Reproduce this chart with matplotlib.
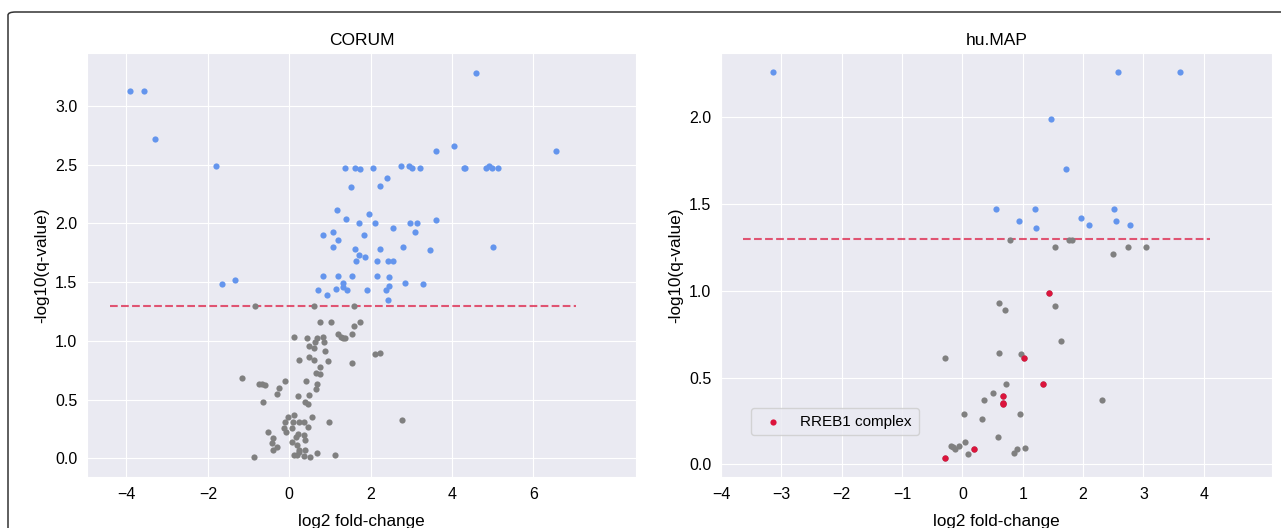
import matplotlib
matplotlib.use("Agg")
import matplotlib.pyplot as plt
import seaborn as sns
from matplotlib.patches import FancyBboxPatch

# CORUM: significant (blue) and not significant (gray) complexes
corum_sig_x = [-3.91, -3.57, -3.29, -1.79, 4.59, 3.61, 4.04, 6.55, 1.38, 1.61,
               1.73, 2.06, 2.75, 2.95, 3.01, 3.21, 4.30, 4.33, 4.84, 4.91,
               4.99, 5.12, 2.41, 2.23, 1.52, 1.18, 1.39, 1.97, 1.72, 2.12,
               2.96, 3.13, 3.60, 2.56, 3.10, 1.07, 0.84, 1.84, 1.19, 1.07,
               2.80, 5.02, 1.61, 2.23, 3.47, 1.72, 1.87, 1.65, 2.16, 2.43,
               2.56, 0.84, 1.19, 1.55, 2.15, 2.45, 2.84, 3.29, -1.65, -1.33,
               1.31, 1.31, 1.16, 1.41, 0.72, 0.93, 1.91, 2.38, 2.45, 2.43]
corum_sig_y = [3.13, 3.13, 2.72, 2.49, 3.28, 2.62, 2.66, 2.62, 2.47, 2.47,
               2.46, 2.47, 2.49, 2.49, 2.47, 2.47, 2.47, 2.47, 2.47, 2.49,
               2.47, 2.47, 2.39, 2.32, 2.31, 2.11, 2.04, 2.08, 2.00, 2.00,
               2.00, 2.00, 2.03, 1.96, 1.93, 1.93, 1.90, 1.90, 1.86, 1.80,
               1.80, 1.80, 1.78, 1.78, 1.77, 1.73, 1.71, 1.68, 1.68, 1.68,
               1.68, 1.55, 1.55, 1.55, 1.55, 1.54, 1.49, 1.48, 1.48, 1.52,
               1.49, 1.46, 1.44, 1.43, 1.43, 1.39, 1.43, 1.43, 1.47, 1.35]
corum_ns_x = [-0.83, 0.61, 1.60, 0.75, 1.03, 1.59, 1.74, 1.20, 1.27, 1.31,
              1.38, 1.54, 0.13, 0.43, 0.69, 0.64, 0.84, 0.85, 0.48, 0.61,
              0.89, 2.11, 2.22, 0.25, 0.48, 0.62, 0.95, 1.54, 0.76, 0.65,
              0.75, -1.17, -0.10, 0.42, -0.75, -0.68, -0.60, 0.69, -0.25, 0.66,
              -0.31, 0.21, 0.49, -0.65, 0.39, 0.47, -0.03, 0.13, 0.57, 2.76,
              0.98, -0.11, 0.10, 0.25, 0.36, -0.13, 0.06, 0.47, -0.52, -0.08,
              0.21, 0.36, 0.16, -0.39, 0.39, -0.42, -0.29, 0.07, 0.19, -0.39,
              0.25, 0.39, 0.68, 1.12, 0.12, 0.20, 0.36, 0.50, -0.87, 0.23]
corum_ns_y = [1.295, 1.295, 1.295, 1.16, 1.16, 1.13, 1.16, 1.06, 1.03, 1.02,
              1.02, 1.06, 1.03, 1.02, 1.02, 0.99, 1.03, 0.99, 0.96, 0.94,
              0.91, 0.89, 0.90, 0.84, 0.86, 0.84, 0.83, 0.81, 0.78, 0.73,
              0.72, 0.68, 0.66, 0.66, 0.63, 0.63, 0.62, 0.63, 0.60, 0.59,
              0.55, 0.53, 0.54, 0.48, 0.48, 0.46, 0.35, 0.37, 0.35, 0.33,
              0.31, 0.31, 0.31, 0.31, 0.31, 0.26, 0.26, 0.27, 0.22, 0.22,
              0.21, 0.20, 0.18, 0.17, 0.16, 0.13, 0.10, 0.14, 0.11, 0.07,
              0.07, 0.07, 0.045, 0.03, 0.03, 0.03, 0.02, 0.01, 0.01, 0.05]

# hu.MAP
humap_sig_x = [-3.14, 2.57, 3.61, 1.47, 1.71, 0.56, 1.20, 2.51, 0.93, 2.54,
               1.96, 2.09, 2.77, 1.22]
humap_sig_y = [2.26, 2.26, 2.26, 1.99, 1.70, 1.47, 1.47, 1.47, 1.40, 1.40,
               1.42, 1.38, 1.38, 1.36]
humap_ns_x = [0.79, 1.76, 1.81, 1.53, 2.74, 3.04, 2.49, 0.61, 0.70, 1.54,
              1.63, -0.28, 0.61, 0.97, 0.72, 0.51, 0.35, 2.32, 0.02, 0.96,
              0.33, 0.59, 0.04, -0.19, -0.05, -0.12, -0.15, 0.10, 0.86, 0.90,
              1.04]
humap_ns_y = [1.29, 1.29, 1.29, 1.25, 1.25, 1.25, 1.21, 0.93, 0.89, 0.91,
              0.71, 0.615, 0.64, 0.634, 0.461, 0.41, 0.37, 0.37, 0.29, 0.29,
              0.26, 0.156, 0.129, 0.106, 0.106, 0.087, 0.10, 0.062, 0.065, 0.088,
              0.096]
rreb1_x = [1.43, 1.02, 1.33, 0.67, 0.67, 0.67, 0.19, -0.28]
rreb1_y = [0.986, 0.615, 0.461, 0.394, 0.355, 0.345, 0.087, 0.039]

threshold = 1.3

sns.set_style("darkgrid")
plt.rcParams['font.family'] = ['Liberation Sans', 'DejaVu Sans']
plt.rcParams['text.color'] = 'black'
plt.rcParams['axes.labelcolor'] = 'black'
plt.rcParams['xtick.color'] = 'black'
plt.rcParams['ytick.color'] = 'black'

fig = plt.figure(figsize=(12.81, 5.28), dpi=100)
ax1 = fig.add_axes([0.0679, 0.0966, 0.4288, 0.803])
ax2 = fig.add_axes([0.5628, 0.0966, 0.4302, 0.803])

# outer frame (cropped at right and bottom)
frame = FancyBboxPatch((8 / 1281, -0.2), 1.2, 1.2 - 12 / 528,
                       boxstyle="round,pad=0,rounding_size=0.006",
                       transform=fig.transFigure, fill=False,
                       edgecolor="#333333", linewidth=1.1)
fig.patches.append(frame)


def volcano(ax, sx, sy, nx, ny, title):
    ax.scatter(sx, sy, s=20, color="cornflowerblue", linewidth=0, zorder=3)
    ax.scatter(nx, ny, s=20, color="gray", linewidth=0, zorder=3)
    allx = list(sx) + list(nx)
    ax.hlines(threshold, min(allx) - 0.5, max(allx) + 0.5, colors="crimson",
              linestyles="--", linewidth=1.5, alpha=0.7, zorder=2)
    ax.set_title(title, fontsize=12.5)
    ax.set_xlabel("log2 fold-change", fontsize=12.3, labelpad=9)
    ax.set_ylabel("-log10(q-value)", fontsize=12.3)
    ax.tick_params(labelsize=11.5)


volcano(ax1, corum_sig_x, corum_sig_y, corum_ns_x, corum_ns_y, "CORUM")
ax1.set_xlim(-4.97, 8.53)
ax1.set_ylim(-0.159, 3.45)
ax1.set_xticks([-4, -2, 0, 2, 4, 6])
ax1.set_yticks([0.0, 0.5, 1.0, 1.5, 2.0, 2.5, 3.0])

volcano(ax2, humap_sig_x, humap_sig_y, humap_ns_x + rreb1_x, humap_ns_y + rreb1_y, "hu.MAP")
ax2.scatter(rreb1_x, rreb1_y, s=20, color="crimson", linewidth=0, zorder=4,
            label="RREB1 complex")
ax2.set_xlim(-4.0, 5.13)
ax2.set_ylim(-0.073, 2.37)
ax2.set_xticks([-4, -3, -2, -1, 0, 1, 2, 3, 4])
ax2.set_yticks([0.0, 0.5, 1.0, 1.5, 2.0])
ax2.legend(loc="lower left", bbox_to_anchor=(0.04, 0.08), fontsize=11,
           handletextpad=0.8, borderpad=0.45)

fig.savefig("out.png", dpi=100)
